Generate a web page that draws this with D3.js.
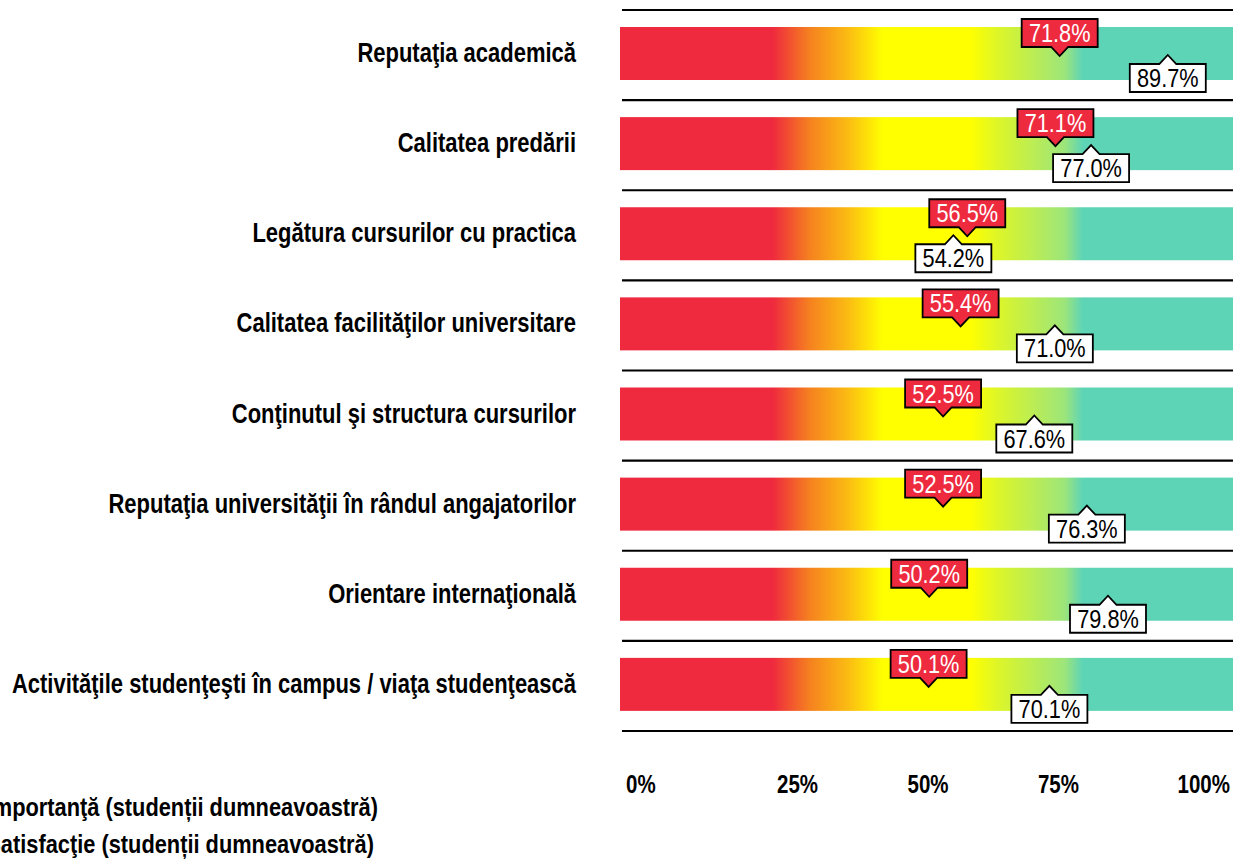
<!DOCTYPE html>
<html>
<head>
<meta charset="utf-8">
<script src="https://cdn.jsdelivr.net/npm/d3@7"></script>
<style>
  html, body { margin: 0; padding: 0; background: #fff; overflow: hidden; }
  svg { display: block; }
  .narrow { font-family: "Liberation Sans", Arial, sans-serif; }
</style>
</head>
<body>
<svg id="chart" width="1233" height="861"></svg>
<script>
const categories = [
  "Reputaţia academică",
  "Calitatea predării",
  "Legătura cursurilor cu practica",
  "Calitatea facilităţilor universitare",
  "Conţinutul şi structura cursurilor",
  "Reputaţia universităţii în rândul angajatorilor",
  "Orientare internaţională",
  "Activităţile studenţeşti în campus / viaţa studenţească"
];
const importance = [71.8, 71.1, 56.5, 55.4, 52.5, 52.5, 50.2, 50.1];
const satisfaction = [89.7, 77.0, 54.2, 71.0, 67.6, 76.3, 79.8, 70.1];
const tickValues = [0, 25, 50, 75, 100];
const tickLabels = ["0%", "25%", "50%", "75%", "100%"];
const legendLabels = ["Importanţă (studenții dumneavoastră)", "Satisfacţie (studenții dumneavoastră)"];
const gradientValues = [0, 24.3, 30.5, 37, 42.5, 57, 62, 72.6, 75.6, 100];
const gradientColors = ["#EF2A3E", "#EF2A3E", "#F5821F", "#FBBE12", "#FFFF00", "#FFFF00", "#DAF52C", "#9DE57A", "#5ED4B6", "#5ED4B6"];

const svg = d3.select("#chart");
const W = 1233, H = 861;
const NARROW = 0.82; // emulate Arial Narrow by condensing Liberation Sans

const x = d3.scaleLinear().domain([0, 100]).range([626, 1230]);
const y = d3.scaleBand().domain(categories).range([10, 731]).padding(0);
const step = y.step();

function place(sel, fx, fy) {
  return sel.attr("x", 0).attr("y", 0)
    .attr("transform", (d, i) => `translate(${fx(d, i)},${fy(d, i)}) scale(${NARROW},1)`);
}

// gradient
const defs = svg.append("defs");
const grad = defs.append("linearGradient")
  .attr("id", "barGrad")
  .attr("gradientUnits", "userSpaceOnUse")
  .attr("x1", x(0)).attr("x2", x(100)).attr("y1", 0).attr("y2", 0);
grad.selectAll("stop").data(gradientValues).join("stop")
  .attr("offset", d => d / 100)
  .attr("stop-color", (d, i) => gradientColors[i]);

// bars
const barTop = 17, barH = 53;
svg.append("g").selectAll("rect").data(categories).join("rect")
  .attr("x", x(0) - 6)
  .attr("y", d => y(d) + barTop)
  .attr("width", x(100) - x(0) + 20)
  .attr("height", barH)
  .attr("fill", "url(#barGrad)");

// separator lines
const lineYs = categories.map(c => y(c)).concat([y(categories[categories.length - 1]) + step]);
svg.append("g").selectAll("line").data(lineYs).join("line")
  .attr("x1", x(0) - 4).attr("x2", W + 5)
  .attr("y1", d => d).attr("y2", d => d)
  .attr("stroke", "#000").attr("stroke-width", 2.2);

// category labels
place(svg.append("g").selectAll("text").data(categories).join("text"),
      () => 576, d => y(d) + 52)
  .attr("class", "narrow")
  .attr("text-anchor", "end")
  .attr("font-size", 26.8)
  .attr("font-weight", "bold")
  .attr("fill", "#000")
  .text(d => d);

// axis tick labels
place(svg.append("g").selectAll("text").data(tickValues).join("text"),
      d => x(d), () => 793)
  .attr("class", "narrow")
  .attr("text-anchor", d => d < 50 ? "start" : (d > 50 ? "end" : "middle"))
  .attr("font-size", 25)
  .attr("font-weight", "bold")
  .attr("fill", "#000")
  .text((d, i) => tickLabels[i]);

// markers
const bw = 76, bh = 28, aw = 8.5, ah = 9;
function downMarker(cx, top) {
  const l = cx - bw / 2, r = cx + bw / 2, b = top + bh;
  return `M${l},${top}H${r}V${b}H${cx + aw}L${cx},${b + ah}L${cx - aw},${b}H${l}Z`;
}
function upMarker(cx, tip) {
  const t = tip + ah, l = cx - bw / 2, r = cx + bw / 2, b = t + bh;
  return `M${l},${t}H${cx - aw}L${cx},${tip}L${cx + aw},${t}H${r}V${b}H${l}Z`;
}

const imp = svg.append("g").selectAll("g").data(categories).join("g");
imp.append("path")
  .attr("d", (d, i) => downMarker(x(importance[i]), y(d) + 9))
  .attr("fill", "#EE2A3F").attr("stroke", "#000").attr("stroke-width", 1.8);
place(imp.append("text"), (d, i) => x(importance[i]), d => y(d) + 9 + 23)
  .attr("class", "narrow")
  .attr("text-anchor", "middle")
  .attr("font-size", 26.5)
  .attr("fill", "#fff")
  .text((d, i) => importance[i].toFixed(1) + "%");

const sat = svg.append("g").selectAll("g").data(categories).join("g");
sat.append("path")
  .attr("d", (d, i) => upMarker(x(satisfaction[i]), y(d) + 45))
  .attr("fill", "#fff").attr("stroke", "#000").attr("stroke-width", 1.8);
place(sat.append("text"), (d, i) => x(satisfaction[i]), d => y(d) + 45 + ah + 23)
  .attr("class", "narrow")
  .attr("text-anchor", "middle")
  .attr("font-size", 26.5)
  .attr("fill", "#000")
  .text((d, i) => satisfaction[i].toFixed(1) + "%");

// legend (partly outside the view on the left, as in the reference)
place(svg.append("g").selectAll("text").data(legendLabels).join("text"),
      (d, i) => i === 0 ? 378 : 374, (d, i) => 816 + i * 37)
  .attr("class", "narrow")
  .attr("text-anchor", "end")
  .attr("font-size", 26.6)
  .attr("font-weight", "bold")
  .attr("fill", "#000")
  .text(d => d);
</script>
</body>
</html>
